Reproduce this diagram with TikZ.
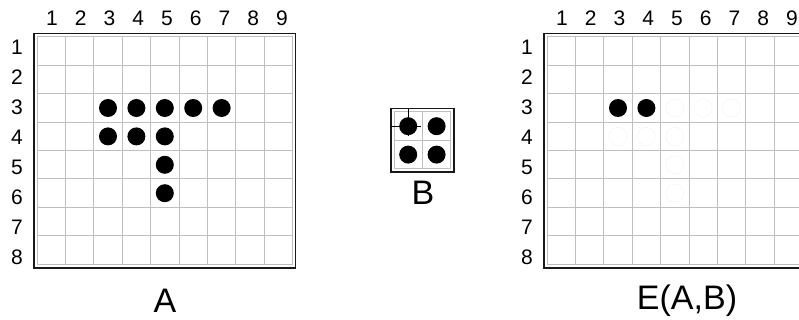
\documentclass[tikz,border=0pt]{standalone}
\usepackage{fontspec}
\setmainfont{Liberation Sans}
\begin{document}
\begin{tikzpicture}[x=1pt, y=-1pt,
    gridline/.style={black!25, line width=1pt},
    frame/.style={black!90, line width=1.6pt},
    pixel/.style={fill=black},
    ghost/.style={black!4, line width=0.6pt},
    numlabel/.style={font=\fontsize{21}{21}\selectfont, inner sep=0pt},
    setlabel/.style={font=\fontsize{34}{34}\selectfont, inner sep=0pt}]
      % Размер клетки и радиус точки
      \def\cs{28.4}
      \def\rd{9}

      \useasboundingbox (0,0) rectangle (799,320);

      % Матрица A: сетка 9 x 8
      \foreach \i in {0,...,9}
        \draw[gridline] (37+\i*\cs,37) -- (37+\i*\cs,37+8*\cs);
      \foreach \j in {0,...,8}
        \draw[gridline] (37,37+\j*\cs) -- (37+9*\cs,37+\j*\cs);
      \draw[frame] (34,33.5) rectangle (295.6,268);

      % Номера столбцов и строк
      \foreach \c in {1,...,9}
        \node[numlabel] (colA\c) at (52+\c*28.75-28.75,18) {\c};
      \foreach \r in {1,...,8}
        \node[numlabel] (rowA\r) at (17,47+\r*30.1-30.1) {\r};

      % Точки множества A
      \foreach \c/\r in {3/3,4/3,5/3,6/3,7/3,3/4,4/4,5/4,5/5,5/6}
        \fill[pixel] (37+\c*\cs-0.5*\cs,37+\r*\cs-0.5*\cs) circle (\rd);

      \node[setlabel] (labA) at (165,301) {A};

      % Структурный элемент B: сетка 2 x 2
      \foreach \i in {0,...,2}
        \draw[gridline] (394+\i*\cs,112) -- (394+\i*\cs,112+2*\cs);
      \foreach \j in {0,...,2}
        \draw[gridline] (394,112+\j*\cs) -- (394+2*\cs,112+\j*\cs);
      \draw[frame] (391,108.5) rectangle (453.8,172);
      \foreach \c/\r in {1/1,2/1,1/2,2/2}
        \fill[pixel] (394+\c*\cs-0.5*\cs,112+\r*\cs-0.5*\cs) circle (\rd);

      % Начало координат элемента B
      \draw[black, line width=1.2pt] (394+0.5*\cs,109) -- (394+0.5*\cs,112+0.5*\cs+10);
      \draw[black, line width=1.2pt] (391,112+0.5*\cs) -- (394+0.5*\cs+13,112+0.5*\cs);

      \node[setlabel] (labB) at (423,193) {B};

      % Результат эрозии E(A,B)
      \begin{scope}[shift={(510,0)}]
        \foreach \i in {0,...,9}
          \draw[gridline] (37+\i*\cs,37) -- (37+\i*\cs,37+8*\cs);
        \foreach \j in {0,...,8}
          \draw[gridline] (37,37+\j*\cs) -- (37+9*\cs,37+\j*\cs);
        \draw[frame] (34,33.5) rectangle (295.6,268);

        \foreach \c in {1,...,9}
          \node[numlabel] (colE\c) at (52+\c*28.75-28.75,18) {\c};
        \foreach \r in {1,...,8}
          \node[numlabel] (rowE\r) at (17,47+\r*30.1-30.1) {\r};

        % Следы удалённых точек
        \foreach \c/\r in {5/3,6/3,7/3,3/4,4/4,5/4,5/5,5/6}
          \draw[ghost] (37+\c*\cs-0.5*\cs,37+\r*\cs-0.5*\cs) circle (\rd);

        % Оставшиеся точки
        \foreach \c/\r in {3/3,4/3}
          \fill[pixel] (37+\c*\cs-0.5*\cs,37+\r*\cs-0.5*\cs) circle (\rd);

        \node[setlabel] (labE) at (177,301) {E(A,B)};
      \end{scope}
\end{tikzpicture}
\end{document}
